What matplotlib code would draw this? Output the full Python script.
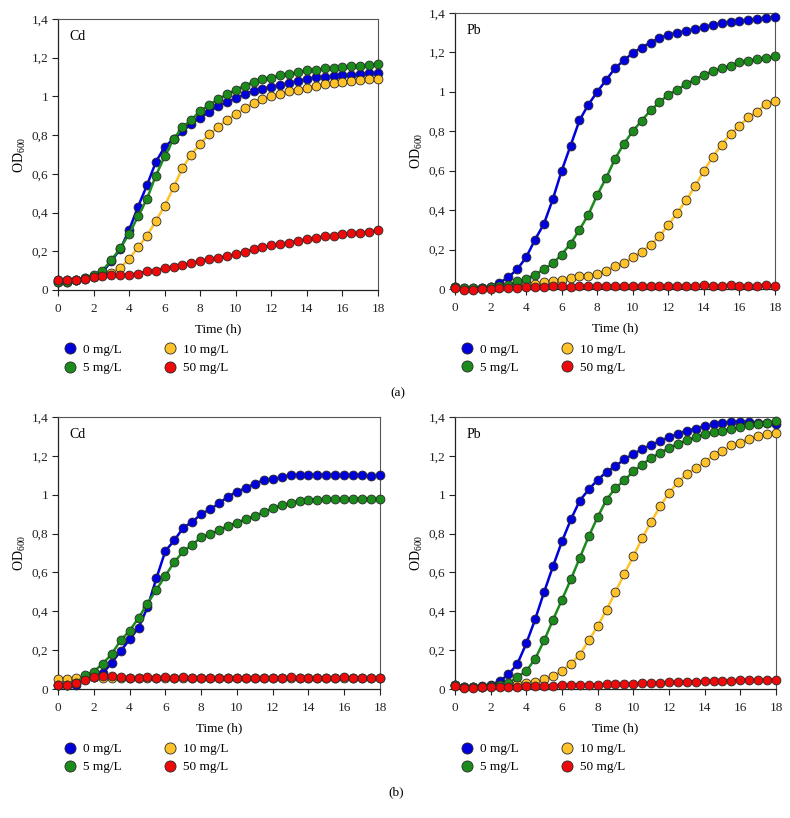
import matplotlib
matplotlib.use("Agg")
import matplotlib.pyplot as plt
from matplotlib.lines import Line2D

plt.rcParams['font.family'] = ['Liberation Serif', 'DejaVu Serif']
plt.rcParams['mathtext.default'] = 'regular'

time_h = [0, 0.5, 1, 1.5, 2, 2.5, 3, 3.5, 4, 4.5, 5, 5.5, 6, 6.5, 7, 7.5, 8, 8.5, 9,
          9.5, 10, 10.5, 11, 11.5, 12, 12.5, 13, 13.5, 14, 14.5, 15, 15.5, 16, 16.5,
          17, 17.5, 18]

concentrations = ["0 mg/L", "5 mg/L", "10 mg/L", "50 mg/L"]
colors = {"0 mg/L": "#0000dc", "5 mg/L": "#1b8c1b", "10 mg/L": "#ffc22a", "50 mg/L": "#ee0a0a"}

# (a) Cd
a_cd_0 = [0.05,0.05,0.05,0.06,0.07,0.09,0.15,0.21,0.31,0.43,0.54,0.66,0.74,0.78,0.82,0.86,0.89,0.92,0.95,0.97,0.99,1.01,1.03,1.04,1.05,1.06,1.07,1.08,1.09,1.10,1.10,1.105,1.11,1.11,1.115,1.12,1.12]
a_cd_5 = [0.04,0.04,0.05,0.06,0.08,0.10,0.155,0.215,0.29,0.38,0.47,0.59,0.69,0.78,0.84,0.88,0.925,0.955,0.985,1.01,1.035,1.055,1.075,1.09,1.095,1.11,1.115,1.125,1.135,1.135,1.145,1.145,1.15,1.155,1.155,1.16,1.165]
a_cd_10 = [0.04,0.04,0.05,0.055,0.065,0.075,0.09,0.115,0.16,0.22,0.28,0.355,0.435,0.53,0.63,0.70,0.755,0.805,0.84,0.88,0.91,0.94,0.965,0.985,1.0,1.01,1.03,1.035,1.045,1.055,1.065,1.07,1.075,1.08,1.085,1.09,1.09]
a_cd_50 = [0.05,0.05,0.05,0.055,0.065,0.07,0.075,0.08,0.08,0.085,0.098,0.10,0.115,0.12,0.13,0.14,0.15,0.16,0.167,0.175,0.185,0.198,0.21,0.22,0.23,0.237,0.245,0.255,0.262,0.27,0.277,0.28,0.287,0.293,0.296,0.30,0.31]

# (a) Pb
a_pb_0 = [0.01,0.0,0.0,0.005,0.01,0.03,0.06,0.10,0.16,0.25,0.33,0.455,0.60,0.727,0.855,0.935,1.0,1.06,1.12,1.16,1.197,1.225,1.25,1.273,1.29,1.30,1.31,1.32,1.33,1.34,1.35,1.355,1.36,1.365,1.37,1.375,1.378]
a_pb_5 = [0.01,0.005,0.005,0.005,0.01,0.015,0.02,0.04,0.05,0.073,0.10,0.13,0.175,0.23,0.30,0.377,0.477,0.563,0.66,0.737,0.80,0.854,0.906,0.947,0.986,1.01,1.04,1.062,1.087,1.104,1.12,1.133,1.15,1.158,1.167,1.172,1.18]
a_pb_10 = [0.01,0.005,0.005,0.005,0.01,0.012,0.015,0.02,0.025,0.027,0.035,0.042,0.047,0.056,0.064,0.068,0.078,0.093,0.115,0.13,0.16,0.188,0.225,0.267,0.326,0.386,0.45,0.52,0.60,0.67,0.732,0.788,0.828,0.87,0.90,0.94,0.955]
a_pb_50 = [0.005,-0.005,-0.005,0.0,0.0,0.005,0.005,0.005,0.01,0.01,0.01,0.015,0.015,0.012,0.015,0.015,0.015,0.015,0.015,0.015,0.015,0.015,0.015,0.015,0.015,0.015,0.015,0.015,0.02,0.015,0.015,0.02,0.015,0.015,0.015,0.02,0.015]

# (b) Cd
b_cd_0 = [0.02,0.02,0.02,0.05,0.06,0.08,0.135,0.195,0.255,0.315,0.42,0.57,0.71,0.765,0.83,0.86,0.90,0.925,0.955,0.99,1.015,1.035,1.057,1.075,1.08,1.09,1.103,1.103,1.103,1.103,1.103,1.10,1.10,1.10,1.10,1.095,1.10]
b_cd_5 = [0.02,0.02,0.03,0.07,0.09,0.13,0.18,0.25,0.30,0.365,0.44,0.51,0.583,0.653,0.708,0.743,0.78,0.797,0.817,0.84,0.855,0.875,0.89,0.91,0.93,0.945,0.957,0.97,0.975,0.975,0.978,0.978,0.978,0.978,0.978,0.978,0.98]
b_cd_10 = [0.05,0.05,0.055,0.06,0.06,0.055,0.055,0.055,0.055,0.055,0.055,0.055,0.055,0.055,0.055,0.055,0.055,0.055,0.055,0.055,0.055,0.055,0.055,0.055,0.055,0.055,0.055,0.055,0.055,0.055,0.055,0.055,0.055,0.055,0.055,0.055,0.055]
b_cd_50 = [0.02,0.02,0.03,0.045,0.06,0.065,0.065,0.06,0.058,0.057,0.06,0.058,0.06,0.058,0.06,0.057,0.057,0.057,0.057,0.058,0.057,0.058,0.057,0.058,0.057,0.057,0.06,0.057,0.057,0.057,0.057,0.058,0.06,0.057,0.057,0.057,0.055]

# (b) Pb
b_pb_0 = [0.02,0.01,0.01,0.015,0.02,0.04,0.075,0.13,0.235,0.36,0.50,0.633,0.76,0.873,0.97,1.027,1.077,1.117,1.148,1.182,1.21,1.234,1.258,1.275,1.297,1.314,1.33,1.34,1.354,1.362,1.37,1.374,1.374,1.374,1.37,1.369,1.366]
b_pb_5 = [0.02,0.01,0.01,0.01,0.015,0.02,0.03,0.062,0.093,0.156,0.25,0.357,0.46,0.565,0.676,0.786,0.885,0.975,1.035,1.074,1.12,1.155,1.19,1.215,1.24,1.263,1.28,1.297,1.314,1.323,1.33,1.34,1.348,1.357,1.362,1.369,1.377]
b_pb_10 = [0.02,0.01,0.01,0.01,0.015,0.02,0.02,0.025,0.033,0.036,0.05,0.067,0.093,0.13,0.177,0.25,0.324,0.408,0.50,0.594,0.683,0.777,0.86,0.94,1.009,1.065,1.108,1.137,1.168,1.203,1.223,1.254,1.268,1.289,1.302,1.31,1.319]
b_pb_50 = [0.015,0.005,0.005,0.01,0.01,0.01,0.01,0.012,0.013,0.015,0.018,0.018,0.02,0.02,0.022,0.022,0.023,0.025,0.027,0.028,0.028,0.03,0.032,0.033,0.034,0.035,0.037,0.038,0.04,0.041,0.042,0.043,0.044,0.046,0.046,0.047,0.048]

y_ticks = [0, 0.2, 0.4, 0.6, 0.8, 1.0, 1.2, 1.4]
y_tick_labels = ["0", "0,2", "0,4", "0,6", "0,8", "1", "1,2", "1,4"]
x_ticks = [0, 2, 4, 6, 8, 10, 12, 14, 16, 18]

panels = [
    ((58, 19, 378, 290), "Cd", {"0 mg/L": a_cd_0, "5 mg/L": a_cd_5, "10 mg/L": a_cd_10, "50 mg/L": a_cd_50}),
    ((455, 13, 775, 289), "Pb", {"0 mg/L": a_pb_0, "5 mg/L": a_pb_5, "10 mg/L": a_pb_10, "50 mg/L": a_pb_50}),
    ((58, 417, 380, 689), "Cd", {"0 mg/L": b_cd_0, "5 mg/L": b_cd_5, "10 mg/L": b_cd_10, "50 mg/L": b_cd_50}),
    ((455, 417, 776, 689), "Pb", {"0 mg/L": b_pb_0, "5 mg/L": b_pb_5, "10 mg/L": b_pb_10, "50 mg/L": b_pb_50}),
]

W, H = 790, 818
fig = plt.figure(figsize=(W / 100, H / 100), dpi=100)

draw_order = ["0 mg/L", "10 mg/L", "5 mg/L", "50 mg/L"]
FS = 9.5

for (l, t, r, b), metal, series in panels:
    ax = fig.add_axes([l / W, 1 - b / H, (r - l) / W, (b - t) / H])
    for i, c in enumerate(draw_order):
        ax.plot(time_h, series[c], color=colors[c], lw=1.8, marker='o', ms=6.4,
                mfc=colors[c], mec='#2a2a2a', mew=0.6, clip_on=False, zorder=3 + i)
    ax.set_xlim(0, 18)
    ax.set_ylim(0, 1.4)
    ax.set_xticks(x_ticks)
    ax.set_xticklabels([str(v) for v in x_ticks])
    ax.set_yticks(y_ticks)
    ax.set_yticklabels(y_tick_labels)
    ax.tick_params(direction='out', length=4, width=0.8, labelsize=FS, colors='#222222')
    ax.tick_params(axis='x', pad=5.5)
    ax.tick_params(axis='y', pad=3)
    for side in ['left', 'bottom']:
        ax.spines[side].set_color('#222222')
        ax.spines[side].set_linewidth(0.9)
    for side in ['top', 'right']:
        ax.spines[side].set_color('#555555')
        ax.spines[side].set_linewidth(0.8)
    ax.set_xlabel("Time (h)", fontsize=FS, labelpad=5.5)
    ax.set_ylabel("OD$_{600}$", fontsize=10, labelpad=2.5)
    ax.text(0.035, 0.935, metal, transform=ax.transAxes, fontsize=10, va='center', ha='left')

    handles = [Line2D([], [], ls='none', marker='o', ms=8, mfc=colors[c], mec='#2a2a2a', mew=0.6)
               for c in concentrations]
    ax.legend(handles, concentrations, ncol=2, loc='upper left',
              bbox_to_anchor=(-0.005, -0.174), frameon=False, fontsize=FS,
              handlelength=1.0, handletextpad=0.5, columnspacing=3.15,
              labelspacing=0.45, borderpad=0)

fig.text(398 / W, 1 - 393 / H, "(a)", fontsize=FS, ha='center', va='center')
fig.text(396 / W, 1 - 792 / H, "(b)", fontsize=FS, ha='center', va='center')

fig.savefig("out.png", dpi=100)
